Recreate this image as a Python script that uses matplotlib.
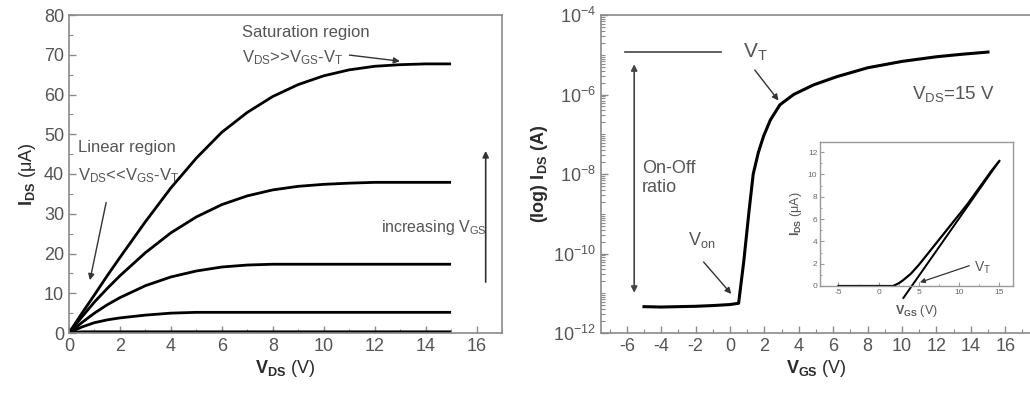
import matplotlib
matplotlib.use('Agg')
import matplotlib.pyplot as plt
from matplotlib.ticker import MultipleLocator, FixedLocator, LogFormatterMathtext, NullFormatter

plt.rcParams['font.family'] = ['Liberation Sans', 'DejaVu Sans']
plt.rcParams['mathtext.fontset'] = 'custom'
plt.rcParams['mathtext.rm'] = 'Liberation Sans'
plt.rcParams['mathtext.it'] = 'Liberation Sans'
plt.rcParams['mathtext.bf'] = 'Liberation Sans:bold'
plt.rcParams['axes.unicode_minus'] = False

# output curves, I_DS (uA) vs V_DS (V), one list per gate voltage
vds = [0, 0.5, 1, 1.5, 2, 3, 4, 5, 6, 7, 8, 9, 10, 11, 12, 13, 14, 15]
ids_1 = [0, 4.9, 9.6, 14.4, 19, 28, 36.5, 44, 50.5, 55.5, 59.5, 62.5, 64.7, 66.2, 67.1, 67.5, 67.7, 67.7]
ids_2 = [0, 4.0, 7.8, 11.2, 14.4, 20.2, 25.2, 29.2, 32.3, 34.5, 36, 36.9, 37.4, 37.7, 37.9, 37.9, 37.9, 37.9]
ids_3 = [0, 2.6, 5.0, 7.1, 8.9, 11.9, 14.1, 15.6, 16.6, 17.1, 17.3, 17.3, 17.3, 17.3, 17.3, 17.3, 17.3, 17.3]
ids_4 = [0, 1.5, 2.6, 3.3, 3.8, 4.5, 5.0, 5.2, 5.2, 5.2, 5.2, 5.2, 5.2, 5.2, 5.2, 5.2, 5.2, 5.2]
ids_5 = [0, 0.3, 0.3, 0.3, 0.3, 0.3, 0.3, 0.3, 0.3, 0.3, 0.3, 0.3, 0.3, 0.3, 0.3, 0.3, 0.3, 0.3]
output_curves = [ids_1, ids_2, ids_3, ids_4, ids_5]

# transfer curve, I_DS (A) vs V_GS (V) at V_DS = 15 V
vgs = [-5, -4, -3, -2, -1, 0, 0.5, 0.8, 1.1, 1.35, 1.65, 1.95, 2.35, 2.9, 3.7, 4.85, 6.2, 8, 10, 12, 13.5, 15]
ids_log = [4.6e-12, 4.5e-12, 4.6e-12, 4.7e-12, 4.9e-12, 5.2e-12, 5.6e-12, 6.3e-11, 1.1e-9, 1.0e-8, 3.5e-8, 8.9e-8,
           2.3e-7, 5.5e-7, 1.0e-6, 1.74e-6, 2.8e-6, 4.7e-6, 6.8e-6, 8.9e-6, 1.03e-5, 1.17e-5]

# inset: linear I_DS (uA) vs V_GS
vgs_lin = [-5, -2, 0, 1, 1.8, 2.5, 3, 4, 5, 6, 7, 8, 9, 10, 11, 12, 13, 14, 15]
ids_lin = [0, 0, 0, 0, 0, 0.25, 0.5, 1.1, 1.9, 2.8, 3.7, 4.6, 5.5, 6.4, 7.3, 8.3, 9.3, 10.3, 11.2]
tangent_v = [3.07, 14.9]
tangent_i = [-1.07, 11.1]

ink = '#2b2b2b'
grey = '#555555'
spine_c = '#8a8a8a'

fig = plt.figure(figsize=(10.30, 3.97), dpi=100)
ax1 = fig.add_axes([69 / 1030, 1 - 333 / 397, 433 / 1030, 318 / 397])
ax2 = fig.add_axes([601 / 1030, 1 - 333 / 397, 430 / 1030, 318 / 397])


def style(ax):
    for s in ax.spines.values():
        s.set_color(spine_c)
        s.set_linewidth(1.2)
    ax.tick_params(which='both', direction='in', colors=spine_c, labelcolor=grey, top=False, right=False)
    ax.tick_params(which='major', length=5, width=1.0, labelsize=13)
    ax.tick_params(which='minor', length=3, width=0.8)


# ---- left: output characteristics
for ic in output_curves:
    ax1.plot(vds, ic, color='black', lw=2.0, solid_capstyle='butt')
ax1.set_xlim(0, 17)
ax1.set_ylim(0, 80)
ax1.xaxis.set_major_locator(MultipleLocator(2))
ax1.xaxis.set_minor_locator(MultipleLocator(1))
ax1.yaxis.set_major_locator(MultipleLocator(10))
ax1.yaxis.set_minor_locator(MultipleLocator(5))
style(ax1)
ax1.set_xlabel(r'$\mathbf{V_{DS}}$ (V)', fontsize=13, color=ink, labelpad=2)
ax1.set_ylabel(r'$\mathbf{I_{DS}}$ ($\mu$A)', fontsize=13, color=ink, labelpad=4)

ax1.text(6.8, 74.5, 'Saturation region', fontsize=12, color=grey)
ax1.text(6.8, 68.2, r'V$_{\rm DS}$>>V$_{\rm GS}$-V$_{\rm T}$', fontsize=12, color=grey)
ax1.annotate('', xy=(13.1, 68.3), xytext=(10.9, 70.0),
             arrowprops=dict(arrowstyle='-|>', color='#333333', lw=1.0, mutation_scale=9))
ax1.text(0.35, 45.5, 'Linear region', fontsize=12, color=grey)
ax1.text(0.35, 38.5, r'V$_{\rm DS}$<<V$_{\rm GS}$-V$_{\rm T}$', fontsize=12, color=grey)
ax1.annotate('', xy=(0.8, 12.6), xytext=(1.48, 33.5),
             arrowprops=dict(arrowstyle='-|>', color='#333333', lw=1.0, mutation_scale=9))
ax1.text(16.4, 26.5, r'increasing V$_{\rm GS}$', fontsize=11.5, color=grey, ha='right', va='center')
ax1.annotate('', xy=(16.36, 46.5), xytext=(16.36, 12.1),
             arrowprops=dict(arrowstyle='-|>', color='#333333', lw=1.2, mutation_scale=9))

# ---- right: transfer characteristic
ax2.plot(vgs, ids_log, color='black', lw=2.2)
ax2.set_yscale('log')
ax2.set_xlim(-7.5, 17.5)
ax2.set_ylim(1e-12, 1e-4)
ax2.xaxis.set_major_locator(MultipleLocator(2))
ax2.xaxis.set_minor_locator(MultipleLocator(1))
ax2.yaxis.set_major_locator(FixedLocator([1e-12, 1e-10, 1e-8, 1e-6, 1e-4]))
ax2.yaxis.set_major_formatter(LogFormatterMathtext())
minors = []
for e in range(-12, -4):
    for m in range(1, 10):
        if m == 1 and e % 2 == 0:
            continue
        minors.append(m * 10.0 ** e)
ax2.yaxis.set_minor_locator(FixedLocator(minors))
ax2.yaxis.set_minor_formatter(NullFormatter())
style(ax2)
ax2.spines['right'].set_visible(False)
ax2.set_xlabel(r'$\mathbf{V_{GS}}$ (V)', fontsize=13, color=ink, labelpad=2)
ax2.set_ylabel(r'(log) $\mathbf{I_{DS}}$ (A)', fontsize=13, color=ink, fontweight='bold', labelpad=2)

ax2.plot([-6.1, -0.5], [1.15e-5, 1.15e-5], color='#444444', lw=1.2)
ax2.annotate('', xy=(-5.57, 8.7e-12), xytext=(-5.57, 6.8e-6),
             arrowprops=dict(arrowstyle='<|-|>', color='#444444', lw=1.2, mutation_scale=9))
ax2.text(-5.13, 8e-9, 'On-Off\nratio', fontsize=13, color=grey, va='center', linespacing=1.15)
ax2.text(0.76, 1.17e-5, r'V$_{\rm T}$', fontsize=15, color=grey, va='center')
ax2.annotate('', xy=(2.92, 6.2e-7), xytext=(1.34, 4.7e-6),
             arrowprops=dict(arrowstyle='-|>', color='#333333', lw=1.0, mutation_scale=9))
ax2.text(-2.44, 2.2e-10, r'V$_{\rm on}$', fontsize=13, color=grey, va='center')
ax2.annotate('', xy=(0.18, 8.5e-12), xytext=(-1.64, 6.9e-11),
             arrowprops=dict(arrowstyle='-|>', color='#333333', lw=1.0, mutation_scale=9))
ax2.text(10.6, 1.0e-6, r'V$_{\rm DS}$=15 V', fontsize=13.5, color=grey, va='center')

# ---- inset
ax3 = fig.add_axes([820 / 1030, 1 - 286 / 397, 193 / 1030, 144 / 397])
ax3.plot(vgs_lin, ids_lin, color='black', lw=1.6)
ax3.plot(tangent_v, tangent_i, color='black', lw=1.4, clip_on=False)
ax3.set_xlim(-7.3, 16.7)
ax3.set_ylim(0, 12.9)
ax3.xaxis.set_major_locator(MultipleLocator(5))
ax3.xaxis.set_minor_locator(MultipleLocator(2.5))
ax3.yaxis.set_major_locator(MultipleLocator(2))
ax3.yaxis.set_minor_locator(MultipleLocator(1))
for s in ax3.spines.values():
    s.set_color('#999999')
    s.set_linewidth(1.0)
ax3.tick_params(which='both', direction='in', colors='#999999', labelcolor='#666666', labelsize=6, pad=2)
ax3.tick_params(which='major', length=3)
ax3.tick_params(which='minor', length=1.5)
ax3.set_xlabel(r'$\mathbf{V_{GS}}$ (V)', fontsize=9, color=grey, labelpad=5)
ax3.set_ylabel(r'$\mathbf{I_{DS}}$ ($\mu$A)', fontsize=9, color=grey, labelpad=3)
ax3.text(11.8, 1.6, r'V$_{\rm T}$', fontsize=10, color=grey, va='center')
ax3.annotate('', xy=(4.8, 0.25), xytext=(11.6, 1.9),
             arrowprops=dict(arrowstyle='-|>', color='#333333', lw=0.9, mutation_scale=7))

fig.savefig('out.png', dpi=100, facecolor='white')
